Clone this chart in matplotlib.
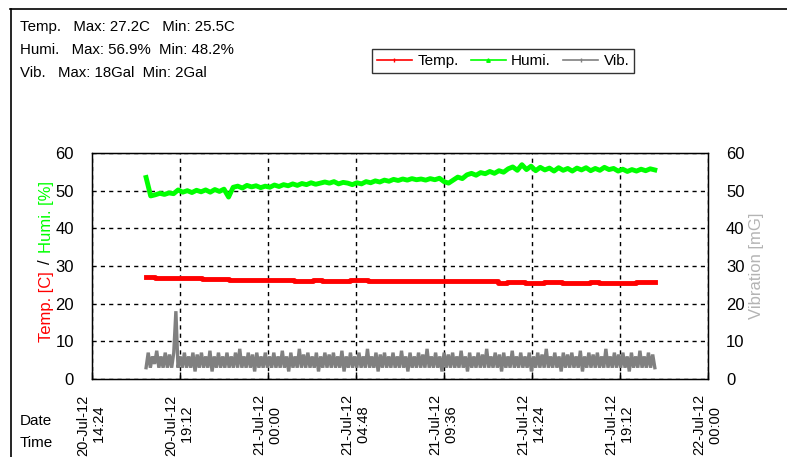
import matplotlib
matplotlib.use("Agg")
import matplotlib.pyplot as plt
from matplotlib.lines import Line2D
import pandas as pd

plt.rcParams['font.family'] = ['Liberation Sans', 'DejaVu Sans']

# ---------------- data ----------------
start_time = "2012-07-20 17:21"
end_time = "2012-07-21 21:06"

temperature = [27.2, 26.8, 26.8, 26.8, 26.7, 26.7, 26.5, 26.5, 26.5, 26.2,
               26.4, 26.3, 26.3, 26.3, 26.3, 26.3, 26.0, 26.0, 26.2, 26.0,
               26.0, 26.0, 26.2, 26.2, 25.9, 25.9, 25.9, 25.9, 25.9, 25.9,
               25.9, 25.9, 25.9, 25.9, 25.9, 25.9, 25.9, 25.9, 25.6, 25.8,
               25.8, 25.6, 25.5, 25.7, 25.7, 25.5, 25.5, 25.5, 25.7, 25.5,
               25.5, 25.5, 25.5, 25.7, 25.7, 25.7]

humidity = [53.5, 48.6, 48.9, 49.3, 49.0, 49.4, 49.2, 50.2, 49.6, 50.0,
            49.5, 50.1, 49.7, 50.2, 49.6, 50.3, 49.8, 50.4, 48.3, 50.9,
            51.2, 50.7, 51.4, 51.0, 51.3, 50.8, 51.2, 50.9, 51.5, 51.1,
            51.6, 51.3, 51.8, 51.4, 51.9, 51.6, 52.1, 51.7, 52.0, 52.3,
            52.0, 52.4, 51.8, 52.2, 52.0, 51.6, 52.1, 51.8, 52.4, 52.1,
            52.6, 52.3, 52.8, 52.5, 53.0, 52.7, 53.1, 52.8, 53.2, 52.9,
            53.1, 52.8, 53.2, 52.9, 53.3, 52.4, 52.0, 52.8, 53.6, 53.2,
            54.2, 54.6, 54.1, 54.8, 54.5, 55.1, 54.6, 55.3, 54.9, 55.8,
            56.3, 55.4, 56.9, 55.6, 56.5, 55.3, 56.2, 55.5, 56.0, 55.2,
            56.1, 55.4, 55.9, 55.2, 56.0, 55.5, 56.1, 55.3, 55.9, 55.4,
            56.2, 55.6, 55.9, 55.2, 55.7, 55.1, 55.6, 55.2, 55.7, 55.3,
            55.8, 55.5]

vibration = [3, 7, 3, 6, 4, 7.5, 3, 6, 3, 7, 3, 6.5, 3, 7, 18, 3, 6, 3, 7, 3,
             6, 3, 7, 2, 6.5, 3, 7, 3, 6, 3, 7.5, 2, 6, 3, 7, 3, 6, 3, 7, 3,
             6, 3, 7, 3, 8, 3, 6, 3, 7, 3, 6.5, 2, 7, 3, 6, 3, 7, 3, 6, 3,
             7, 3, 6, 3, 7.5, 3, 6, 2, 7, 3, 6, 3, 8, 3, 6.5, 3, 7, 3, 6, 3,
             7, 2, 6, 3, 7, 3, 6.5, 3, 7, 3, 6, 3, 7.5, 2, 6, 3, 7, 3, 6, 3,
             7, 3, 6, 3, 8, 3, 6, 3, 7, 2, 6.5, 3, 7, 3, 6, 3, 7, 3, 6, 3,
             7.5, 3, 6, 2, 7, 3, 6, 3, 7, 3, 6.5, 3, 8, 3, 6, 3, 7, 3, 6, 2,
             7, 3, 6.5, 3, 7, 3, 6, 3, 7.5, 3, 6, 2, 7, 3, 6, 3, 7, 3, 6.5, 3,
             8, 3, 6, 3, 7, 3, 6.5, 2, 7, 3, 6, 3, 7.5, 3, 6, 3, 7, 3, 6, 3,
             7, 2, 6, 3, 7, 3, 6.5, 3, 8, 3, 6, 3, 7, 3, 6, 2, 7, 3, 6.5, 3,
             7, 3, 6, 3, 7.5, 2, 6, 3, 7, 3, 6.5, 3, 7, 3, 6, 3, 8, 3, 6, 3,
             7, 3, 6.5, 3, 7, 3, 6, 2, 7, 3, 6, 3, 7.5, 3, 6, 3, 7, 3, 6.5, 3]

tick_positions = ["2012-07-20 14:24", "2012-07-20 19:12", "2012-07-21 00:00",
                  "2012-07-21 04:48", "2012-07-21 09:36", "2012-07-21 14:24",
                  "2012-07-21 19:12", "2012-07-22 00:00"]
tick_dates = ["20-Jul-12", "20-Jul-12", "21-Jul-12", "21-Jul-12",
              "21-Jul-12", "21-Jul-12", "21-Jul-12", "22-Jul-12"]
tick_times = ["14:24", "19:12", "00:00", "04:48", "09:36", "14:24", "19:12", "00:00"]
y_ticks = [0, 10, 20, 30, 40, 50, 60]

summary_lines = ["Temp.   Max: 27.2C   Min: 25.5C",
                 "Humi.   Max: 56.9%  Min: 48.2%",
                 "Vib.   Max: 18Gal  Min: 2Gal"]

# ---------------- figure ----------------
W, H = 787, 457
fig = plt.figure(figsize=(W / 100, H / 100), dpi=100)
fig.patch.set_facecolor("white")

def fx(px):
    return px / W

def fy(py):
    return 1 - py / H

ax = fig.add_axes([fx(92), fy(379), fx(708) - fx(92), fy(153) - fy(379)])

t_temp = pd.date_range(start_time, end_time, periods=len(temperature))
t_hum = pd.date_range(start_time, end_time, periods=len(humidity))
t_vib = pd.date_range(start_time, end_time, periods=len(vibration))

ax.plot(t_vib, vibration, color="#808080", lw=2.4, zorder=3,
        solid_joinstyle="miter")
ax.plot(t_temp, temperature, color="#ff0000", lw=3.5, drawstyle="steps-post",
        zorder=4)
ax.plot(t_hum, humidity, color="#00ff00", lw=3.5, zorder=4)

ticks = pd.to_datetime(tick_positions)
ax.set_xlim(ticks[0], ticks[-1])
ax.set_ylim(0, 60)
ax.set_xticks(ticks)
ax.set_xticklabels([f"{d}\n{t}   " for d, t in zip(tick_dates, tick_times)],
                   rotation=90, fontsize=10.5, linespacing=1.25,
                   multialignment="right", va="top", ha="center")
ax.set_yticks(y_ticks)
ax.set_yticklabels([str(v) for v in y_ticks], fontsize=12)
ax.tick_params(axis="x", direction="in", length=5, width=1, pad=11,
               top=False)
ax.tick_params(axis="y", length=0, pad=13)

ax.grid(True, color="black", linestyle=(0, (3, 3)), linewidth=1.0)
for s in ax.spines.values():
    s.set_linewidth(1.0)
    s.set_color("black")

ax2 = ax.twinx()
ax2.set_ylim(0, 60)
ax2.set_yticks(y_ticks)
ax2.set_yticklabels([str(v) for v in y_ticks], fontsize=12)
ax2.tick_params(axis="y", length=0, pad=13)

# y axis labels (multi-coloured)
lab_x = fx(46)
fig.text(lab_x, fy(262), "/", rotation=90, ha="center", va="center",
         fontsize=12, color="black")
fig.text(lab_x, fy(271), "Temp. [C]", rotation=90, ha="center", va="top",
         fontsize=12, color="#ff0000")
fig.text(lab_x, fy(253), "Humi. [%]", rotation=90, ha="center", va="bottom",
         fontsize=12, color="#00ff00")
fig.text(fx(757), fy(266), "Vibration [mG]", rotation=90, ha="center",
         va="center", fontsize=12, color="#b4b4b4")

# summary text
for i, line in enumerate(summary_lines):
    fig.text(fx(20), fy(27 + 23 * i), line, ha="left", va="center",
             fontsize=10.8, color="black")

fig.text(fx(20), fy(421), "Date", ha="left", va="center", fontsize=11)
fig.text(fx(20), fy(443), "Time", ha="left", va="center", fontsize=11)

# legend
handles = [Line2D([], [], color="#ff0000", lw=1.2, marker="|", ms=3),
           Line2D([], [], color="#00ff00", lw=1.2, marker="^", ms=2.5),
           Line2D([], [], color="#808080", lw=1.2, marker="|", ms=3)]
leg = fig.legend(handles, ["Temp.", "Humi.", "Vib."], ncol=3,
                 loc="center", bbox_to_anchor=(fx(503), fy(61)),
                 fontsize=11, frameon=True, fancybox=False,
                 handlelength=2.3, handletextpad=0.35, columnspacing=0.8,
                 borderpad=0.3, borderaxespad=0)
leg.get_frame().set_edgecolor("black")
leg.get_frame().set_linewidth(1.0)

# outer frame lines
fig.add_artist(Line2D([fx(10), 1], [fy(8.5), fy(8.5)], color="black", lw=1.2,
                      transform=fig.transFigure))
fig.add_artist(Line2D([fx(10.5), fx(10.5)], [0, fy(8.5)], color="black",
                      lw=1.2, transform=fig.transFigure))

fig.savefig("out.png", dpi=100)
